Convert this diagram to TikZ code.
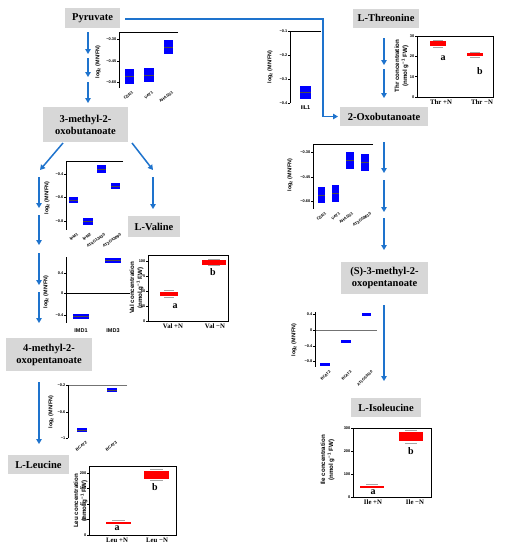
\documentclass[tikz,border=0pt]{standalone}
\usepackage{fontspec}
\setmainfont{Liberation Serif}
\setsansfont{Liberation Sans}
\usetikzlibrary{arrows.meta}
\definecolor{boxgray}{RGB}{215,215,215}
\definecolor{flowblue}{RGB}{30,115,205}
\definecolor{barblue}{RGB}{0,0,255}
\definecolor{barred}{RGB}{255,0,0}
\newcommand\ytk[4]{\draw[axisline] (#1,#2) -- ++(-1.8,0) node[ticklab] (#4) {#3};}
\newcommand\bbar[4]{\fill[barblue] (#1,#2) rectangle (#3,#4); \draw[medline] (#1,{(#2+#4)/2}) -- (#3,{(#2+#4)/2});}
\newcommand\rbar[4]{\fill[barred] (#1,#2) rectangle (#3,#4);}
\begin{document}
\begin{tikzpicture}[x=1pt,y=-1pt,
  box/.style={fill=boxgray, font=\fontsize{10.5}{12}\selectfont\bfseries, align=center, inner sep=0pt},
  flow/.style={draw=flowblue, line width=1.5pt, -{Triangle[length=5pt,width=5.5pt]}},
  flowline/.style={draw=flowblue, line width=1.5pt},
  axisline/.style={draw=black, line width=0.6pt},
  greyline/.style={draw=black!55, line width=0.6pt},
  medline/.style={draw=black!70, line width=0.2pt},
  whisk/.style={draw=black!35, line width=0.3pt},
  ticklab/.style={anchor=east, inner sep=0.6pt, font=\sffamily\bfseries\fontsize{3.9}{4.5}\selectfont},
  ylab/.style={rotate=90, inner sep=0pt, font=\sffamily\bfseries\fontsize{5.4}{6}\selectfont},
  conclab/.style={rotate=90, inner sep=0pt, font=\sffamily\bfseries\fontsize{6.2}{7}\selectfont},
  glab/.style={anchor=north east, rotate=35, inner sep=0pt, font=\sffamily\bfseries\fontsize{4}{5}\selectfont},
  glabb/.style={anchor=north east, rotate=45, inner sep=0pt, font=\sffamily\bfseries\fontsize{3.8}{5}\selectfont},
  glabs/.style={inner sep=0pt, font=\sffamily\bfseries\fontsize{5.5}{6}\selectfont},
  grp/.style={inner sep=0pt, font=\fontsize{6.8}{8}\selectfont\bfseries},
  letter/.style={inner sep=0pt, font=\fontsize{10}{11}\selectfont\bfseries}]
\useasboundingbox[fill=white] (0,0) rectangle (506,550);

% ---------- metabolite boxes ----------
\node[box, minimum width=55pt, minimum height=20pt] (pyr) at (92.5,18) {Pyruvate};
\node[box, minimum width=66pt, minimum height=19pt] (thr) at (386,18) {L-Threonine};
\node[box, minimum width=88pt, minimum height=19pt] (oxb) at (384,116.5) {2-Oxobutanoate};
\node[box, minimum width=85pt, minimum height=35pt] (mob) at (85.5,124.5) {3-methyl-2-\\oxobutanoate};
\node[box, minimum width=52pt, minimum height=21pt] (val) at (154,226.5) {L-Valine};
\node[box, minimum width=86pt, minimum height=33pt] (mop) at (49,354.5) {4-methyl-2-\\oxopentanoate};
\node[box, minimum width=61pt, minimum height=19pt] (leu) at (38.5,464.5) {L-Leucine};
\node[box, minimum width=87pt, minimum height=32pt] (smo) at (384.5,278) {(S)-3-methyl-2-\\oxopentanoate};
\node[box, minimum width=70pt, minimum height=19pt] (ile) at (386,407.5) {L-Isoleucine};

% ---------- arrows ----------
\coordinate (pa1) at (88,32);  \coordinate (pa2) at (88,54);
\coordinate (pa3) at (88,58);  \coordinate (pa4) at (88,77);
\coordinate (pa5) at (88,82);  \coordinate (pa6) at (88,103);
\draw[flow] (pa1) -- (pa2);
\draw[flow] (pa3) -- (pa4);
\draw[flow] (pa5) -- (pa6);

\coordinate (pr1) at (125,19);
\coordinate (pr2) at (323,19);
\coordinate (pr3) at (323,116.5);
\coordinate (pr4) at (338,116.5);
\draw[flowline] (pr1) -- (pr2) -- (pr3);
\draw[flow] (pr3) -- (pr4);

\coordinate (ta1) at (384,38);  \coordinate (ta2) at (384,65);
\coordinate (ta3) at (384,69);  \coordinate (ta4) at (384,98);
\draw[flow] (ta1) -- (ta2);
\draw[flow] (ta3) -- (ta4);

\coordinate (oa1) at (384,142); \coordinate (oa2) at (384,173);
\coordinate (oa3) at (384,180); \coordinate (oa4) at (384,212);
\coordinate (oa5) at (384,218); \coordinate (oa6) at (384,250);
\draw[flow] (oa1) -- (oa2);
\draw[flow] (oa3) -- (oa4);
\draw[flow] (oa5) -- (oa6);

\coordinate (sa1) at (384,305); \coordinate (sa2) at (384,381);
\draw[flow] (sa1) -- (sa2);

\coordinate (md1) at (63,143);  \coordinate (md2) at (40,170);
\coordinate (md3) at (132,143); \coordinate (md4) at (153,170);
\draw[flow] (md1) -- (md2);
\draw[flow] (md3) -- (md4);
\coordinate (va1) at (153,177); \coordinate (va2) at (153,209);
\draw[flow] (va1) -- (va2);

\coordinate (la1) at (39,177); \coordinate (la2) at (39,208);
\coordinate (la3) at (39,215); \coordinate (la4) at (39,245);
\coordinate (la5) at (39,253); \coordinate (la6) at (39,285);
\coordinate (la7) at (39,292); \coordinate (la8) at (39,323);
\draw[flow] (la1) -- (la2);
\draw[flow] (la3) -- (la4);
\draw[flow] (la5) -- (la6);
\draw[flow] (la7) -- (la8);
\coordinate (lb1) at (39,382); \coordinate (lb2) at (39,444);
\draw[flow] (lb1) -- (lb2);

% ---------- chart: CSR1 VAT1 AHASS1 (left) ----------
\draw[axisline] (178,32) -- (119,32) -- (119,88);
\ytk{119}{39}{−0.30}{c1a}
\ytk{119}{61}{−0.45}{c1b}
\ytk{119}{82}{−0.60}{c1c}
\bbar{125}{69}{134}{84}
\bbar{144}{68}{154}{82}
\bbar{164}{40}{173}{54}
\node[glab] (c1g1) at (132,91) {CSR1};
\node[glab] (c1g2) at (152,91) {VAT1};
\node[glab] (c1g3) at (172,91) {AHASS1};
\node[ylab] (c1y) at (98,62) {log\textsubscript{2} (MN/FN)};

% ---------- chart: IIL1 ----------
\draw[axisline] (321,31) -- (290,31) -- (290,103);
\ytk{290}{31}{−0.1}{c2a}
\ytk{290}{55}{−0.2}{c2b}
\ytk{290}{79}{−0.3}{c2c}
\ytk{290}{103}{−0.4}{c2d}
\bbar{300}{86}{311}{99}
\node[glabs] (c2g1) at (305.5,108) {IIL1};
\node[ylab] (c2y) at (270,67) {log\textsubscript{2} (MN/FN)};

% ---------- chart: Thr ----------
\draw[axisline] (417,36) rectangle (493,97);
\ytk{417}{36}{30}{c3a}
\ytk{417}{56.3}{20}{c3b}
\ytk{417}{76.7}{10}{c3c}
\ytk{417}{97}{0}{c3d}
\draw[whisk] (433,40) -- (443,40) (433,47) -- (443,47);
\draw[whisk] (470,52.3) -- (480,52.3) (470,56.8) -- (480,56.8);
\rbar{430}{41}{446}{46}
\rbar{467}{53}{483}{56}
\node[letter] (c3la) at (443,58) {a};
\node[letter] (c3lb) at (480,71) {b};
\node[grp] (c3x1) at (441,102.5) {Thr +N};
\node[grp] (c3x2) at (482,102.5) {Thr −N};
\node[conclab] (c3y1) at (397,66) {Thr concentration};
\node[conclab] (c3y2) at (405,66) {(nmol g\textsuperscript{−1} FW)};

% ---------- chart: CSR1 VAT1 AHASS1 AT3G58610 (right) ----------
\draw[axisline] (373,144) -- (313,144) -- (313,209);
\ytk{313}{152}{−0.30}{c4a}
\ytk{313}{177}{−0.45}{c4b}
\ytk{313}{201}{−0.60}{c4c}
\bbar{318}{187}{325}{203}
\bbar{332}{185}{339}{202}
\bbar{346}{152}{354}{169}
\bbar{361}{154}{369}{171}
\node[glab] (c4g1) at (325,212) {CSR1};
\node[glab] (c4g2) at (339,212) {VAT1};
\node[glab] (c4g3) at (352,212) {AHASS1};
\node[glab] (c4g4) at (370,212) {AT3G58610};
\node[ylab] (c4y) at (290,175) {log\textsubscript{2} (MN/FN)};

% ---------- chart: BCAT2 BCAT3 AT1G50110 ----------
\draw[greyline] (315,330) -- (377,330);
\draw[axisline] (315,312) -- (315,367);
\ytk{315}{314}{0.4}{c5a}
\ytk{315}{330}{0}{c5b}
\ytk{315}{346}{−0.4}{c5c}
\ytk{315}{361}{−0.8}{c5d}
\fill[barblue] (320,363) rectangle (330,365.5);
\fill[barblue] (341,340) rectangle (351,342.5);
\fill[barblue] (362,313) rectangle (371,315.5);
\node[glabb] (c5g1) at (329,370) {BCAT2};
\node[glabb] (c5g2) at (350,370) {BCAT3};
\node[glabb] (c5g3) at (371,370) {AT1G50110};
\node[ylab] (c5y) at (294,340) {log\textsubscript{2} (MN/FN)};

% ---------- chart: IPM ----------
\draw[axisline] (123,161) -- (66,161) -- (66,230);
\ytk{66}{174}{−0.4}{c6a}
\ytk{66}{197}{−0.6}{c6b}
\ytk{66}{221}{−0.8}{c6c}
\bbar{69}{197}{78}{203}
\bbar{83}{218}{93}{225}
\bbar{97}{165}{106}{173}
\bbar{111}{183}{120}{189}
\node[glab] (c6g1) at (77,233) {IPM1};
\node[glab] (c6g2) at (90,233) {IPM2};
\node[glab] (c6g3) at (104,233) {AT4G13430};
\node[glab] (c6g4) at (120,233) {AT2G43090};
\node[ylab] (c6y) at (47,198) {log\textsubscript{2} (MN/FN)};

% ---------- chart: IMD ----------
\draw[axisline] (66,293) -- (130,293);
\draw[axisline] (66,257) -- (66,323);
\ytk{66}{273}{0.4}{c7a}
\ytk{66}{293}{0}{c7b}
\ytk{66}{315}{−0.4}{c7c}
\bbar{73}{314}{89}{319}
\bbar{105}{258}{121}{263}
\node[glabs] (c7g1) at (81,331) {IMD1};
\node[glabs] (c7g2) at (113,331) {IMD3};
\node[ylab] (c7y) at (46,292) {log\textsubscript{2} (MN/FN)};

% ---------- chart: Val ----------
\draw[axisline] (148,255) rectangle (228,321);
\ytk{148}{261}{100}{c8a}
\ytk{148}{276}{75}{c8b}
\ytk{148}{291}{50}{c8c}
\ytk{148}{306}{25}{c8d}
\ytk{148}{321}{0}{c8e}
\draw[whisk] (164,297.5) -- (174,297.5) (164,290.5) -- (174,290.5);
\draw[whisk] (208,259) -- (220,259) (208,265.5) -- (220,265.5);
\rbar{160}{292}{178}{295.5}
\rbar{202}{260}{226}{264.5}
\node[letter] (c8la) at (175,306) {a};
\node[letter] (c8lb) at (213,272) {b};
\node[grp] (c8x1) at (173,326) {Val +N};
\node[grp] (c8x2) at (215,326) {Val −N};
\node[conclab] (c8y1) at (132,288) {Val concentration};
\node[conclab] (c8y2) at (140,288) {(nmol g\textsuperscript{−1} FW)};

% ---------- chart: BCAT2 BCAT3 (left) ----------
\draw[greyline] (127,385) -- (68,385);
\draw[axisline] (68,385) -- (68,438);
\ytk{68}{385}{−0.2}{c9a}
\ytk{68}{412}{−0.6}{c9b}
\ytk{68}{438}{−1}{c9c}
\bbar{77}{428}{87}{432}
\bbar{107}{388}{117}{392}
\node[glab] (c9g1) at (86,441) {BCAT2};
\node[glab] (c9g2) at (116,441) {BCAT3};
\node[ylab] (c9y) at (51,412) {log\textsubscript{2} (MN/FN)};

% ---------- chart: Leu ----------
\draw[axisline] (89,466) rectangle (176,535);
\ytk{89}{473}{200}{c10a}
\ytk{89}{488.5}{150}{c10b}
\ytk{89}{504}{100}{c10c}
\ytk{89}{519.5}{50}{c10d}
\ytk{89}{535}{0}{c10e}
\draw[whisk] (112,520) -- (125,520);
\draw[whisk] (150,469.5) -- (163,469.5) (150,480) -- (163,480);
\rbar{106}{521.5}{131}{523.5}
\rbar{144}{471}{169}{478.5}
\node[letter] (c10la) at (117,528) {a};
\node[letter] (c10lb) at (155,487) {b};
\node[grp] (c10x1) at (117,540.5) {Leu +N};
\node[grp] (c10x2) at (157,540.5) {Leu −N};
\node[conclab] (c10y1) at (76,501) {Leu concentration};
\node[conclab] (c10y2) at (84,501) {(nmol g\textsuperscript{−1} FW)};

% ---------- chart: Ile ----------
\draw[axisline] (353,428) rectangle (431,497);
\ytk{353}{428}{300}{c11a}
\ytk{353}{451}{200}{c11b}
\ytk{353}{474}{100}{c11c}
\ytk{353}{497}{0}{c11d}
\draw[whisk] (366,484.5) -- (378,484.5);
\draw[whisk] (405,430.5) -- (417,430.5) (405,443) -- (417,443);
\rbar{360}{485.5}{384}{487.5}
\rbar{399}{432}{423}{441}
\node[letter] (c11la) at (373,492) {a};
\node[letter] (c11lb) at (411,451) {b};
\node[grp] (c11x1) at (373,502.5) {Ile +N};
\node[grp] (c11x2) at (415,502.5) {Ile −N};
\node[conclab] (c11y1) at (323,460) {Ile concentration};
\node[conclab] (c11y2) at (331,460) {(nmol g\textsuperscript{−1} FW)};
\end{tikzpicture}
\end{document}
